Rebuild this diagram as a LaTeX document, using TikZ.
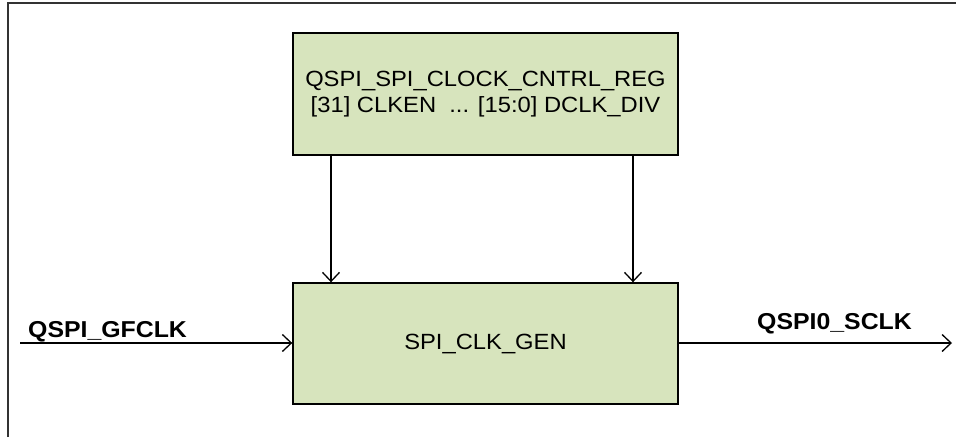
\documentclass[tikz,border=0pt]{standalone}
\usepackage{fontspec}
\setmainfont[FakeStretch=1.08]{Liberation Sans}
\usetikzlibrary{arrows.meta}
\definecolor{boxgreen}{HTML}{D7E4BD}
\definecolor{framegray}{HTML}{333333}
\tikzset{
  blockbox/.style={draw=black, fill=boxgreen, line width=1.4pt, inner sep=0pt,
    align=center, font=\fontsize{22}{26}\selectfont},
  sig/.style={line width=1.3pt, -{Straight Barb[length=9pt,width=17pt,line width=1.3pt]}},
  siglabel/.style={anchor=base west, inner sep=0pt, font=\fontsize{23}{27}\selectfont\bfseries}
}
\begin{document}
\begin{tikzpicture}[x=1pt,y=-1pt]
\useasboundingbox (0,0) rectangle (956,437);
\fill[white] (0,0) rectangle (956,437);
% frame (cropped: only top and left borders visible)
\draw[framegray, line width=1.6pt] (8,437) -- (8,3) -- (956,3);
% blocks
\node[blockbox, minimum width=385pt, minimum height=122pt] (reg) at (485.5,94)
  {QSPI\_SPI\_CLOCK\_CNTRL\_REG\\{}{[31]} CLKEN\ \ ... [15:0] DCLK\_DIV};
\node[blockbox, minimum width=385pt, minimum height=121pt] (gen) at (485.5,343.5)
  {SPI\_CLK\_GEN};
% vertical arrows
\draw[sig] ([xshift=-154.5pt]reg.south) -- ([xshift=-154.5pt]gen.north);
\draw[sig] ([xshift=147.5pt]reg.south) -- ([xshift=147.5pt]gen.north);
% input / output
\coordinate (src) at (20,343);
\coordinate (dst) at (952,343);
\draw[sig] (src) -- (src -| gen.west);
\draw[sig] (dst -| gen.east) -- (dst);
% labels
\node[siglabel] (inlbl) at (28,337) {QSPI\_GFCLK};
\node[siglabel] (outlbl) at (757,329) {QSPI0\_SCLK};
\end{tikzpicture}
\end{document}
